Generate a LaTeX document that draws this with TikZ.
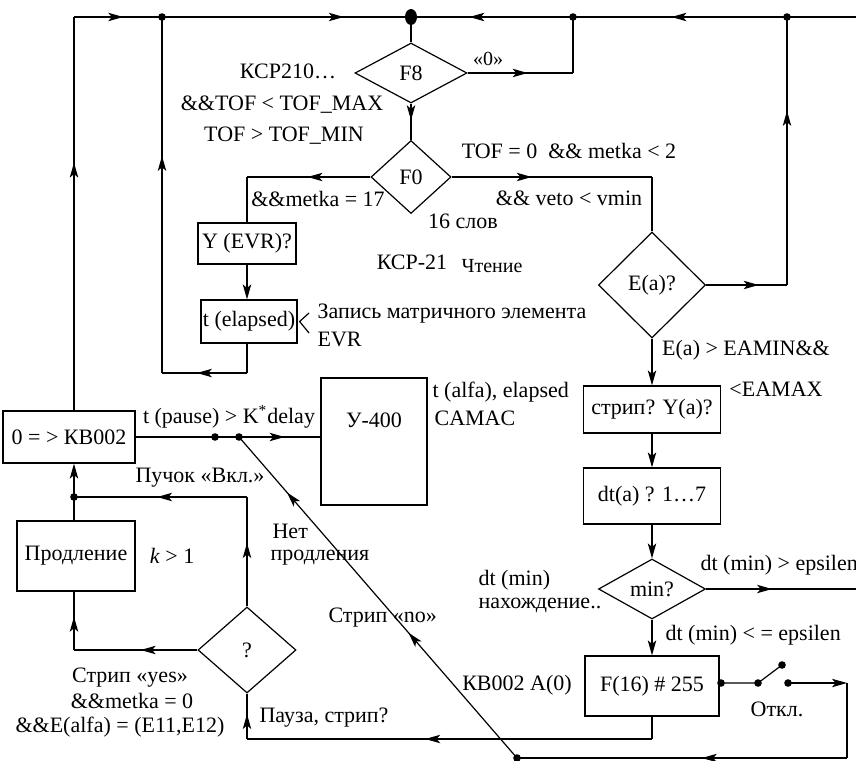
\documentclass[tikz,border=0pt]{standalone}
\usepackage{fontspec}
\setmainfont{Liberation Serif}
\usetikzlibrary{shapes.geometric,arrows.meta,decorations.markings}
\tikzset{
  myarr/.tip={Stealth[length=7.5pt,width=4.2pt,inset=1.8pt]},
  ar/.style={postaction={decorate},decoration={markings,mark=at position #1 with {\arrow{myarr}}}},
  artwo/.style 2 args={postaction={decorate},decoration={markings,mark=at position #1 with {\arrow{myarr}},mark=at position #2 with {\arrow{myarr}}}},
  endarr/.style={-{myarr}},
  box/.style={draw, rectangle, inner sep=0pt},
  dia/.style={draw, diamond, inner sep=0pt},
  lbl/.style={inner sep=0pt, text height=7pt, text depth=2pt},
  dot/.style={circle, fill, inner sep=0pt, minimum size=3.8pt},
  bigdot/.style={ellipse, fill, inner sep=0pt, minimum width=6pt, minimum height=8pt},
}
\begin{document}
\begin{tikzpicture}[x=0.5pt,y=-0.5pt, line width=0.6pt, font=\fontsize{11}{13}\selectfont]
\useasboundingbox (0,0) rectangle (856,760);
% boxes
\node[box, minimum width=66pt, minimum height=26pt] (kb) at (69,437) {0 = > КВ002};
\node[box, minimum width=59pt, minimum height=35pt] (pr) at (76,556) {Продление};
\node[box, minimum width=49pt, minimum height=20.5pt] (yevr) at (247,243.5) {Y (EVR)?};
\node[box, minimum width=48pt, minimum height=21.5pt] (tel) at (249,321.5) {t (elapsed)};
\node[box, minimum width=53pt, minimum height=63.5pt] (u) at (374,441.5) {};
\node[lbl] (ut) at (374,422) {У-400};
\node[box, minimum width=68.5pt, minimum height=23.5pt] (s) at (652,409.5) {стрип? Y(a)?};
\node[box, minimum width=68.5pt, minimum height=28pt] (dt) at (652,496) {dt(a) ? 1…7};
\node[box, minimum width=67pt, minimum height=30pt] (f16) at (652,686) {F(16) \# 255};
% diamonds
\node[dia, minimum width=56pt, minimum height=30pt] (f8) at (411,73) {F8};
\node[dia, minimum width=40pt, minimum height=36.5pt] (f0) at (411,177) {F0};
\node[dia, minimum width=53.5pt, minimum height=53pt] (ea) at (652,285) {E(a)?};
\node[dia, minimum width=53.5pt, minimum height=30pt] (mn) at (652,589) {min?};
\node[dia, minimum width=49pt, minimum height=43pt] (q) at (247,650) {?};
% top line
\coordinate (tl) at (74,17);
\node[dot] (d1) at (162,17) {};
\node[bigdot] (d0) at (411,17) {};
\node[dot] (d2) at (573,17) {};
\node[dot] (d3) at (787,17) {};
\coordinate (tr) at (856,17);
\draw[ar=0.63] (tl |- kb.north) -- (tl);
\draw[ar=0.56] (tl) -- (d1.center);
\draw[ar=0.73] (d1.center) -- (d0.center);
\draw[ar=0.64] (d2.center) -- (d0.center);
\draw[ar=0.54] (d3.center) -- (d2.center);
\draw (tr) -- (d3.center);
\draw (d0.center) -- (f8.north);
% F8
\coordinate (c1) at (573,73);
\draw[ar=0.57] (f8.east) -- (c1);
\draw (c1) -- (d2.center);
\draw[ar=0.46] (f8.south) -- (f0.north);
% F0 left branch
\coordinate (c2) at (247,177);
\draw[ar=0.51] (f0.west) -- (c2);
\draw (c2) -- (yevr.north);
\draw[endarr] (yevr.south) -- (yevr.south |- tel.north);
\coordinate (c3) at (247,373);
\coordinate (c4) at (162,373);
\draw (yevr.south |- tel.south) -- (c3);
\draw[ar=0.59] (c3) -- (c4);
\draw[ar=0.61] (c4) -- (d1.center);
\coordinate (lt1) at (309,313);
\coordinate (lt2) at (309,333);
\draw (lt1) -- ([xshift=1pt]tel.east) -- (lt2);
% F0 right branch
\coordinate (c5) at (652,177);
\draw[ar=0.4] (f0.east) -- (c5);
\draw (c5) -- (ea.north);
\coordinate (c6) at (787,285);
\draw[ar=0.65] (ea.east) -- (c6);
\draw[ar=0.65] (c6) -- (d3.center);
\draw[endarr] (ea.south) -- (s.north);
\draw[endarr] (s.south) -- (dt.north);
\draw[endarr] (dt.south) -- (mn.north);
\coordinate (c7) at (856,589);
\draw[ar=0.44] (mn.east) -- (c7);
\draw[endarr] (mn.south) -- (f16.north);
% switch
\node[dot] (sw0) at (721,683) {};
\node[dot] (sw1) at (758,683) {};
\node[dot] (sw2) at (782,665) {};
\node[dot] (sw3) at (788,683) {};
\coordinate (rc) at (847,683);
\coordinate (rb) at (847,758);
\node[dot] (bd) at (517,758) {};
\draw (sw0.center) -- (sw1.center) -- (sw2.center);
\draw[endarr] (sw3.center) -- (rc);
\draw (rc) -- (rb);
\draw[ar=0.44] (rb) -- (bd.center);
% KB002 line
\node[dot] (da) at (215,437) {};
\node[dot] (db) at (239,437) {};
\draw (kb.east) -- (da.center) -- (db.center);
\draw[ar=0.56] (db.center) -- (u.west |- db);
\draw[artwo={0.39}{0.827}] (bd.center) -- (db.center);
% left loop
\node[dot] (j) at (74,497) {};
\draw[endarr] (j.center) -- (tl |- kb.south);
\draw (j |- pr.north) -- (j.center);
\coordinate (c8) at (247,497);
\draw[ar=0.52] (c8) -- (j.center);
\draw[ar=0.58] (q.north) -- (c8);
\coordinate (c9) at (74,650);
\draw[ar=0.46] (q.west) -- (c9);
\draw[ar=0.57] (c9) -- (j |- pr.south);
\coordinate (c10) at (652,739);
\coordinate (c11) at (247,739);
\draw (f16.south) -- (c10);
\draw[ar=0.56] (c10) -- (c11);
\draw[ar=0.55] (c11) -- (q.south);
% labels
\node[lbl] (l1) at (488,60) {\fontsize{10}{11}\selectfont «0»};
\node[lbl] (l2) at (288,73) {КСР210…};
\node[lbl] (l3) at (282,105) {\&\&TOF < TOF\_MAX};
\node[lbl] (l4) at (284,136) {TOF > TOF\_MIN};
\node[lbl] (l5) at (318,201) {\&\&metka = 17};
\node[lbl] (l6) at (569,153) {TOF = 0\ \ \&\& metka < 2};
\node[lbl] (l7) at (569,200) {\&\& veto < vmin};
\node[lbl] (l8) at (463,223) {16 слов};
\node[lbl] (l9) at (412,264) {КСР-21};
\node[lbl] (l10) at (492,267) {\fontsize{10}{11}\selectfont Чтение};
\node[lbl, anchor=west] (l11) at (317,313) {Запись матричного элемента};
\node[lbl, anchor=west] (l12) at (317,341) {EVR};
\node[lbl] (l13) at (229,418) {t (pause) > K\textsuperscript{*}delay};
\node[lbl, anchor=west] (l14) at (432,392) {t (alfa), elapsed};
\node[lbl, anchor=west] (l15) at (434,420) {CAMAC};
\node[lbl] (l16) at (200,477) {Пучок «Вкл.»};
\node[lbl, anchor=west] (l17) at (272,533) {Нет};
\node[lbl, anchor=west] (l18) at (270,555) {продления};
\node[lbl, anchor=west] (l19) at (328,617) {Стрип «no»};
\node[lbl] (l20) at (172,558) {\textit{k} > 1};
\node[lbl] (l21) at (130,677) {Стрип «yes»};
\node[lbl] (l22) at (132,703) {\&\&metka = 0};
\node[lbl] (l23) at (120,727) {\&\&E(alfa) = (E11,E12)};
\node[lbl] (l24) at (324,717) {Пауза, стрип?};
\node[lbl] (l25) at (746,350) {E(a) > EAMIN\&\&};
\node[lbl] (l26) at (776,391) {<EAMAX};
\node[lbl, anchor=west] (l27) at (700,565) {dt (min) > epsilen};
\node[lbl, anchor=west] (l28) at (478,580) {dt (min)};
\node[lbl, anchor=west] (l29) at (478,603) {нахождение..};
\node[lbl, anchor=west] (l30) at (665,635) {dt (min) < = epsilen};
\node[lbl] (l31) at (517,685) {КВ002 A(0)};
\node[lbl] (l32) at (777,711) {Откл.};
\end{tikzpicture}
\end{document}
